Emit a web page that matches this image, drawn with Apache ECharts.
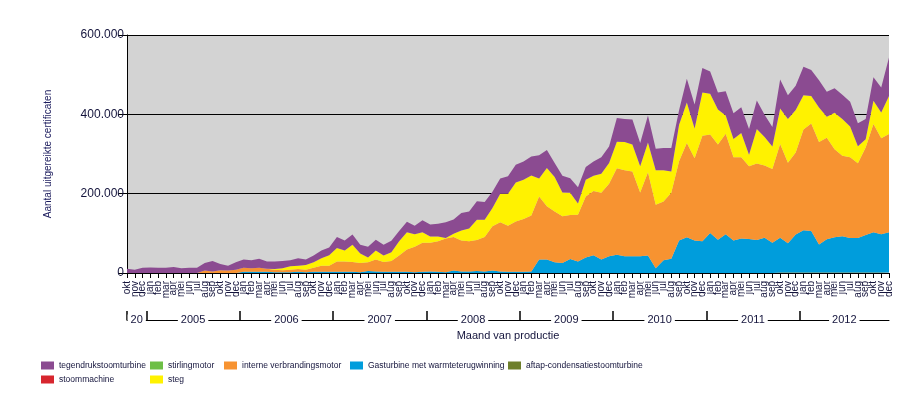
<!DOCTYPE html>
<html>
<head>
<meta charset="utf-8">
<script src="https://cdn.jsdelivr.net/npm/echarts@6/dist/echarts.min.js"></script>
<style>
html,body{margin:0;padding:0;background:#fff;}
#chart{width:923px;height:408px;}
</style>
</head>
<body>
<div id="chart"></div>
<script>
// ---- categories (production months, okt 2004 .. dec 2012) ----
const monthNames = ['jan','feb','mar','apr','mei','jun','jul','aug','sep','okt','nov','dec'];
const categories = ['okt','nov','dec'];
for (let y = 0; y < 8; y++) categories.push(...monthNames);

// ---- year level of the axis ----
const yearLabels = ['20','2005','2006','2007','2008','2009','2010','2011','2012'];
const yearMonthCounts = [3,12,12,12,12,12,12,12,12];

// ---- series values (aantal certificaten) ----
const tegendrukstoomturbine = [
 11000,8000,13000,14000,13000,13000,15000,12000,13000,13000,
 19000,26000,16000,12000,19000,21000,20000,23000,18000,19000,
 18000,15000,19000,14000,17000,20000,19000,28000,25000,26000,
 22000,27000,27000,27000,29000,26000,26000,21000,30000,30000,
 32000,40000,36000,44000,43000,47000,45000,41000,38000,44000,
 45000,46000,48000,59000,45000,35000,42000,37000,41000,32000,
 36000,42000,42000,60000,58000,63000,59000,68000,54000,56000,
 59000,36000,60000,61000,62000,56000,43000,61000,65000,65000,
 65000,72000,56000,49000,73000,60000,61000,72000,66000,69000,
 63000,62000,61000,62000,58000,51000,59000,63000,97000];
const stirlingmotor = new Array(99).fill(0);
const interneVerbrandingsmotor = [
 0,0,0,0,0,0,0,0,0,0,
 6000,4000,7000,6000,8000,10000,9000,10000,8000,6000,
 5000,6000,7000,6000,10000,15000,15000,26000,26000,25000,
 23000,22000,30000,25000,27000,41000,56000,64000,73000,72000,
 77000,85000,85000,78000,76000,78000,87000,112000,124000,116000,
 127000,133000,141000,159000,134000,128000,118000,111000,118000,154000,
 162000,168000,183000,218000,217000,214000,161000,210000,160000,148000,
 166000,200000,238000,207000,266000,248000,240000,253000,210000,205000,
 183000,193000,182000,186000,236000,203000,207000,254000,271000,258000,
 256000,222000,203000,203000,188000,221000,273000,242000,248000];
const gasturbine = [
 0,0,0,0,0,0,0,0,0,0,
 0,0,0,0,0,3000,3000,3000,3000,2000,
 2000,2000,3000,2000,3000,3000,3000,3000,3000,3000,
 2000,5000,4000,3000,3000,3000,3000,2000,3000,4000,
 3000,2000,6000,4000,4000,5000,4000,6000,4000,3000,
 3000,3000,4000,34000,34000,27000,25000,35000,29000,39000,
 45000,34000,42000,46000,42000,42000,42000,44000,12000,32000,
 36000,82000,90000,82000,80000,101000,84000,98000,82000,87000,
 86000,83000,89000,76000,88000,74000,96000,107000,105000,71000,
 84000,89000,91000,87000,87000,94000,101000,96000,101000];
const aftapCondensatiestoomturbine = [
 0,0,0,0,0,0,0,0,0,0,0,0,0,0,0,0,0,0,0,0,
 0,0,0,0,0,0,0,0,0,0,0,0,0,0,0,0,0,0,0,0,
 0,0,0,0,0,0,0,0,0,0,0,0,0,0,0,0,0,0,0,0,
 0,0,0,0,0,0,0,0,0,0,0,0,0,0,0,0,0,0,0,0,
 0,0,0,0,1000,1000,1000,1000,1000,1000,1000,1000,1500,1500,1500,1500,1500,1500,1500];
const stoommachine = new Array(99).fill(0);
const steg = [
 0,0,0,0,0,0,0,0,0,0,
 0,0,0,0,0,0,0,0,0,2000,
 5000,9000,8000,12000,14000,19000,27000,34000,28000,43000,
 24000,12000,23000,16000,22000,36000,44000,32000,27000,16000,
 12000,1000,8000,25000,32000,51000,43000,46000,72000,81000,
 98000,99000,101000,45000,97000,87000,60000,56000,28000,42000,
 38000,48000,52000,67000,71000,68000,66000,75000,87000,79000,
 54000,92000,102000,75000,109000,103000,88000,46000,46000,61000,
 29000,87000,72000,57000,90000,110000,107000,86000,69000,87000,
 53000,92000,93000,78000,43000,21000,59000,65000,96000];

const yTicks = [0, 200000, 400000, 600000];

// year boundaries and centres on the month scale
const yearBounds = [0];
const yearCenters = [];
let acc = 0;
yearMonthCounts.forEach((c, k) => {
  const start = k === 0 ? 0 : acc - 0.5;
  const end = acc + c - 0.5;
  yearCenters.push(k === 0 ? (acc + c - 0.5) / 2 : (start + Math.min(end, categories.length - 1)) / 2);
  acc += c;
  if (k < yearMonthCounts.length - 1) yearBounds.push(acc - 0.5);
});

const txt = '#14143c';
const fmtNL = v => String(v).replace(/\B(?=(\d{3})+(?!\d))/g, '.');

const seriesDefs = [
  {name:'aftap-condensatiestoomturbine', data: aftapCondensatiestoomturbine, color:'#6e7f2c'},
  {name:'stoommachine', data: stoommachine, color:'#d7262e'},
  {name:'Gasturbine met warmteterugwinning', data: gasturbine, color:'#009ddc'},
  {name:'stirlingmotor', data: stirlingmotor, color:'#6dbf46'},
  {name:'interne verbrandingsmotor', data: interneVerbrandingsmotor, color:'#f79331'},
  {name:'steg', data: steg, color:'#fff200'},
  {name:'tegendrukstoomturbine', data: tegendrukstoomturbine, color:'#8b4b91'}
];

const legendFont = {fontSize: 8.5, color: txt, fontFamily: "'Liberation Sans',Arial,sans-serif"};
function mkLegend(left, names) {
  return {
    left: left, top: 361, orient: 'vertical', itemWidth: 13, itemHeight: 8, itemGap: 5,
    icon: 'rect', padding: 0, data: names, textStyle: legendFont, selectedMode: false
  };
}

const chart = echarts.init(document.getElementById('chart'), null, {renderer: 'canvas'});
chart.setOption({
  animation: false,
  color: seriesDefs.map(s => s.color),
  grid: {left: 127, right: 34, top: 35, bottom: 135, show: true, backgroundColor: '#d3d3d3', borderWidth: 0},
  legend: [
    mkLegend(41, ['tegendrukstoomturbine', 'stoommachine']),
    mkLegend(150, ['stirlingmotor', 'steg']),
    mkLegend(224, ['interne verbrandingsmotor']),
    mkLegend(350, ['Gasturbine met warmteterugwinning']),
    mkLegend(508, ['aftap-condensatiestoomturbine'])
  ],
  xAxis: [
    {
      type: 'category', data: categories, boundaryGap: false,
      axisLine: {lineStyle: {color: '#000', width: 1}},
      axisTick: {interval: 0, length: 5, lineStyle: {color: '#000'}},
      axisLabel: {interval: 0, rotate: 90, margin: 8, fontSize: 10, color: txt,
        fontFamily: "'Liberation Sans',Arial,sans-serif"},
      splitLine: {show: false}
    },
    {
      type: 'value', position: 'bottom', offset: 47, min: 0, max: categories.length - 1,
      axisLine: {show: true, lineStyle: {color: '#000', width: 1}},
      axisTick: {show: true, inside: true, length: 9, customValues: yearBounds, lineStyle: {color: '#000', width: 1.5}},
      axisLabel: {
        customValues: yearCenters,
        formatter: v => {
          const k = yearCenters.findIndex(c => Math.abs(c - v) < 0.01);
          return k >= 0 ? yearLabels[k] : '';
        },
        verticalAlign: 'middle', margin: 0, fontSize: 11, color: txt,
        backgroundColor: '#fff', padding: [0, 3], fontFamily: "'Liberation Sans',Arial,sans-serif"
      },
      splitLine: {show: false},
      name: 'Maand van productie', nameLocation: 'middle', nameGap: 7,
      nameTextStyle: {fontSize: 11, color: txt, verticalAlign: 'top', fontFamily: "'Liberation Sans',Arial,sans-serif"}
    }
  ],
  yAxis: {
    type: 'value', min: 0, max: 600000, interval: 200000,
    axisLine: {show: true, lineStyle: {color: '#000'}},
    axisTick: {show: true, length: 9, lineStyle: {color: '#000'}},
    axisLabel: {formatter: v => yTicks.includes(v) ? fmtNL(v) : '', fontSize: 12, color: txt, margin: 3,
      fontFamily: "'Liberation Sans',Arial,sans-serif"},
    splitLine: {show: true, lineStyle: {color: '#000', width: 1}},
    name: 'Aantal uitgereikte certificaten', nameLocation: 'middle', nameGap: 74,
    nameTextStyle: {fontSize: 10, color: '#1a1a5c', fontFamily: "'Liberation Sans',Arial,sans-serif"}
  },
  series: seriesDefs.map(s => ({
    name: s.name, type: 'line', stack: 'total', data: s.data,
    symbol: 'none', lineStyle: {width: 0}, areaStyle: {color: s.color, opacity: 1},
    itemStyle: {color: s.color}, emphasis: {disabled: true}
  }))
});
</script>
</body>
</html>
